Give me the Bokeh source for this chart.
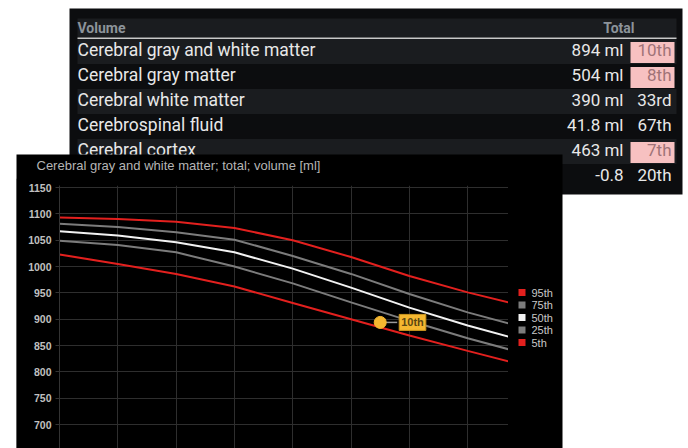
from bokeh.plotting import figure
from bokeh.models import Range1d, FixedTicker, Label
from bokeh.core.properties import value
from bokeh.embed import file_html
from bokeh.resources import INLINE

# ---------------- chart data ----------------
ages = [20, 30, 40, 50, 60, 70, 80, 90, 97]
p95 = [1093, 1090, 1085, 1073, 1050, 1018, 982, 951, 932]
p75 = [1081, 1075, 1065, 1051, 1020, 986, 948, 913, 892]
p50 = [1067, 1059, 1046, 1027, 996, 960, 922, 888, 867]
p25 = [1049, 1041, 1027, 1000, 968, 932, 897, 864, 843]
p05 = [1023, 1005, 986, 962, 931, 900, 869, 840, 820]
series_names = ["95th", "75th", "50th", "25th", "5th"]
series_colors = ["#e3201e", "#7c7c7c", "#f2f2f2", "#7c7c7c", "#e3201e"]
subject_age = [75]
subject_value = [894]
subject_label = "10th"
y_ticks = [650, 700, 750, 800, 850, 900, 950, 1000, 1050, 1100, 1150]
x_ticks = [20, 30, 40, 50, 60, 70, 80, 90]
chart_title = "Cerebral gray and white matter; total; volume [ml]"

# ---------------- table data ----------------
header_left = "Volume"
header_right = "Total"
row_names = ["Cerebral gray and white matter", "Cerebral gray matter",
             "Cerebral white matter", "Cerebrospinal fluid", "Cerebral cortex", ""]
row_values = ["894 ml", "504 ml", "390 ml", "41.8 ml", "463 ml", "-0.8"]
row_pcts = [10, 8, 33, 67, 7, 20]


def ordinal(n):
    if 10 <= n % 100 <= 20:
        suf = "th"
    else:
        suf = {1: "st", 2: "nd", 3: "rd"}.get(n % 10, "th")
    return f"{n}{suf}"


# ================= background figure: table + chart panel (page pixels) =================
PANEL = "#0c0d0f"
LIGHT = "#1a1c1f"
TFONT = value("Roboto")
CFONT = value("Liberation Sans")
t = figure(width=688, height=448, x_range=Range1d(0, 688), y_range=Range1d(448, 0),
           x_axis_location=None, y_axis_location=None, toolbar_location=None,
           output_backend="svg", min_border=0, background_fill_color="white",
           border_fill_color="white", outline_line_color=None)
t.xgrid.visible = False
t.ygrid.visible = False

n = len(row_names)
row_top = [38.5 + 25 * i for i in range(n)]
row_cy = [rt + 11 for rt in row_top]
light_rows = [i for i in range(n) if i % 2 == 0]

t.quad(left=[69], right=[682], top=[8], bottom=[194], fill_color=PANEL, line_color=None)
t.quad(left=[77], right=[676], top=[18], bottom=[37], fill_color=LIGHT, line_color=None)
t.quad(left=[77] * len(light_rows), right=[676] * len(light_rows),
       top=[row_top[i] for i in light_rows], bottom=[row_top[i] + 25 for i in light_rows],
       fill_color=LIGHT, line_color=None)
t.quad(left=[77], right=[676], top=[37], bottom=[38.5], fill_color="#c8c8c8", line_color=None)

t.text(x=[77], y=[27.5], text=[header_left], text_font=TFONT,
       text_font_size="14px", text_font_style="bold", text_color="#8c939a",
       text_baseline="middle", text_align="left")
t.text(x=[634], y=[27.5], text=[header_right], text_font=TFONT,
       text_font_size="14px", text_font_style="bold", text_color="#8c939a",
       text_baseline="middle", text_align="right")

t.text(x=[77] * n, y=row_cy, text=row_names, text_font=TFONT,
       text_font_size="17.5px", text_color="#e8e8e8", text_baseline="middle", text_align="left")
t.text(x=[623] * n, y=row_cy, text=row_values, text_font=TFONT,
       text_font_size="17px", text_color="#e8e8e8", text_baseline="middle", text_align="right")

hi = [i for i in range(n) if row_pcts[i] <= 10]
lo = [i for i in range(n) if row_pcts[i] > 10]
t.quad(left=[630] * len(hi), right=[674] * len(hi),
       top=[row_top[i] + 3 for i in hi], bottom=[row_top[i] + 24 for i in hi],
       fill_color="#f7c1c1", line_color=None)
t.text(x=[671] * len(hi), y=[row_cy[i] for i in hi], text=[ordinal(row_pcts[i]) for i in hi],
       text_font=TFONT, text_font_size="17px", text_color="#a07378",
       text_baseline="middle", text_align="right")
t.text(x=[671] * len(lo), y=[row_cy[i] for i in lo], text=[ordinal(row_pcts[i]) for i in lo],
       text_font=TFONT, text_font_size="17px", text_color="#e8e8e8",
       text_baseline="middle", text_align="right")

# chart panel (covers the lower part of the table), its title and legend
t.quad(left=[16], right=[562], top=[154], bottom=[448], fill_color="black", line_color=None)
t.text(x=[36], y=[165], text=[chart_title], text_font=CFONT, text_font_size="13px",
       text_color="#b5b5b5", text_baseline="middle", text_align="left")
leg_y = [292 + 12.5 * i for i in range(len(series_names))]
t.quad(left=[518] * len(leg_y), right=[525] * len(leg_y),
       top=[y - 3.5 for y in leg_y], bottom=[y + 3.5 for y in leg_y],
       fill_color=series_colors, line_color=None)
t.text(x=[531] * len(leg_y), y=leg_y, text=series_names, text_font=CFONT,
       text_font_size="11px", text_color="#c8c8c8", text_baseline="middle", text_align="left")

# ================= chart figure (absolutely positioned on the chart panel) =================
FRAME_TOP_PAD = 2                       # frame starts 2 px above the 1150 line
PX_PER_50 = 26.35
y_end = 1150 + FRAME_TOP_PAD * 50 / PX_PER_50
y_start = y_end - (448 - (187 - FRAME_TOP_PAD)) * 50 / PX_PER_50
c = figure(width=492, height=270, x_range=Range1d(20, 97), y_range=Range1d(y_start, y_end),
           x_axis_location=None, y_axis_location="left", toolbar_location=None,
           output_backend="svg", min_border_left=43, min_border_right=0,
           min_border_top=7, min_border_bottom=0,
           background_fill_color="black", border_fill_color="black",
           outline_line_color=None)
c.styles = {"position": "absolute", "left": "16px", "top": "178px"}

ax = c.yaxis[0]
ax.ticker = FixedTicker(ticks=y_ticks)
ax.major_label_text_font = "Liberation Sans"
ax.major_label_text_font_size = "10.5px"
ax.major_label_text_font_style = "bold"
ax.major_label_text_color = "#c0c0c0"
ax.major_tick_out = 4
ax.major_tick_in = 0
ax.minor_tick_line_color = None
ax.axis_line_color = "#333333"
ax.major_tick_line_color = "#333333"
ax.major_label_standoff = 4
c.ygrid.grid_line_color = "#2e2e2e"
c.xgrid.ticker = FixedTicker(ticks=x_ticks)
c.xgrid.grid_line_color = "#2e2e2e"

for vals, col in zip([p95, p75, p50, p25, p05], series_colors):
    c.line(ages, vals, line_color=col, line_width=2)

px_per_unit = 449 / (97 - 20)
c.segment(x0=subject_age, y0=subject_value,
          x1=[a + 17 / px_per_unit for a in subject_age], y1=subject_value,
          line_color="#9a9a9a", line_width=1.5)
c.scatter(subject_age, subject_value, size=12, fill_color="#f5b730", line_color="#f5b730")
c.add_layout(Label(x=subject_age[0], y=subject_value[0], x_offset=19, text=subject_label,
                   text_align="left", text_baseline="middle", text_font="Liberation Sans",
                   text_font_size="11px", text_font_style="bold", text_color="#5c4712",
                   background_fill_color="#f5b730", background_fill_alpha=1,
                   border_line_color="#c9951f", padding=2))

open("out.html", "w").write(file_html([t, c], INLINE))
